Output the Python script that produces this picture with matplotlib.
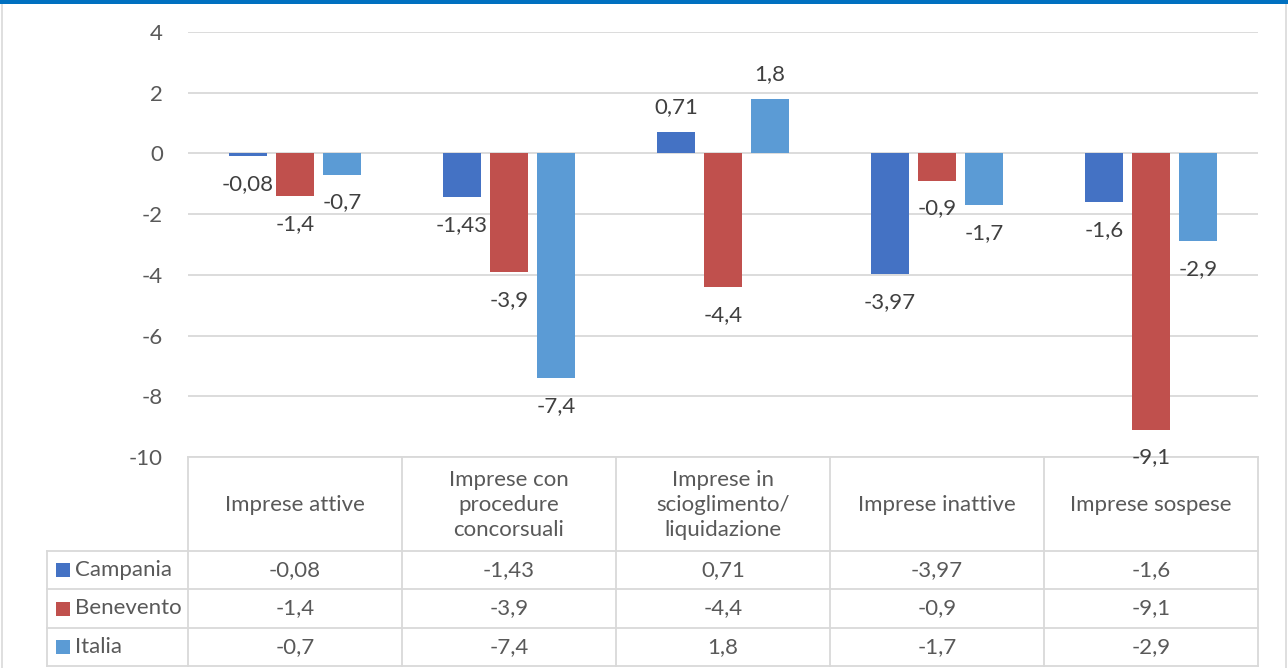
import numpy as np
import matplotlib
matplotlib.use("Agg")
import matplotlib.pyplot as plt
import matplotlib.transforms as mtrans
from matplotlib.patches import Rectangle

plt.rcParams['font.family'] = ['Lato', 'DejaVu Sans']

# data
categories = ["Imprese attive", "Imprese con\nprocedure\nconcorsuali",
              "Imprese in\nscioglimento/\nliquidazione", "Imprese inattive",
              "Imprese sospese"]
series_names = ["Campania", "Benevento", "Italia"]
campania = [-0.08, -1.43, 0.71, -3.97, -1.6]
benevento = [-1.4, -3.9, -4.4, -0.9, -9.1]
italia = [-0.7, -7.4, 1.8, -1.7, -2.9]
colors = ["#4472C4", "#C0504D", "#5B9BD5"]
yticks = [4, 2, 0, -2, -4, -6, -8, -10]

FS = 16

def fmt(v):
    s = ("%.2f" % v).rstrip("0").rstrip(".")
    return s.replace(".", ",")

W, H = 1288, 668
fig = plt.figure(figsize=(W / 100, H / 100), dpi=100)

# overlay in pixel coords (y down) for frame + table
ov = fig.add_axes([0, 0, 1, 1], zorder=0)
ov.set_xlim(0, W)
ov.set_ylim(H, 0)
ov.axis("off")
ov.add_patch(Rectangle((2, 3), W - 4, H - 2, fill=False, ec="#D9D9D9", lw=1.2))
ov.add_patch(Rectangle((0, 0), W, 3.5, fc="#0070C0", ec="none"))

# main chart
ax_l, ax_r, ax_t, ax_b = 188, 1258, 32, 457
ax = fig.add_axes([ax_l / W, (H - ax_b) / H, (ax_r - ax_l) / W, (ax_b - ax_t) / H], zorder=2)
ax.patch.set_alpha(0)
ax.set_xlim(-0.5, len(categories) - 0.5)
ax.set_ylim(-10, 4)
ax.set_yticks(yticks)
ax.set_yticklabels([fmt(t) for t in yticks])
ax.set_xticks([])
ax.tick_params(axis="y", length=0, pad=18, labelsize=FS, labelcolor="#595959")
for sp in ax.spines.values():
    sp.set_visible(False)
ax.yaxis.grid(True, color="#D9D9D9", lw=1.3)
ax.set_axisbelow(True)

x = np.arange(len(categories))
bw = 0.177
step = 0.22
all_series = [campania, benevento, italia]
for k, vals in enumerate(all_series):
    xs = x + (k - 1) * step
    ax.bar(xs, vals, width=bw, color=colors[k], zorder=3)
    for xi, v in zip(xs, vals):
        off = 18 if v > 0 else -20
        ax.annotate(fmt(v), (xi, v), xytext=(0, off), textcoords="offset points",
                    ha="center", va="center", fontsize=FS, color="#404040",
                    annotation_clip=False, zorder=4)

# data table below: x from chart data, y in pixels
tr = mtrans.blended_transform_factory(ax.transData, ov.transData)
line_kw = dict(color="#D9D9D9", lw=1.3, zorder=1)
row_edges = [457, 551, 589, 628, 666]
leg_left = 47
n = len(categories)
# vertical lines for category columns
for i in range(n + 1):
    ov.plot([i - 0.5, i - 0.5], [row_edges[0], row_edges[-1]], transform=tr, **line_kw)
# horizontal lines
ov.plot([-0.5, n - 0.5], [row_edges[0], row_edges[0]], transform=tr, **line_kw)
for y in row_edges[1:]:
    ov.plot([leg_left, ax_l], [y, y], **line_kw)
    ov.plot([-0.5, n - 0.5], [y, y], transform=tr, **line_kw)
ov.plot([leg_left, leg_left], [row_edges[1], row_edges[-1]], **line_kw)

# header
hy = (row_edges[0] + row_edges[1]) / 2
for i, c in enumerate(categories):
    ov.text(i, hy + 1, c, transform=tr, ha="center", va="center", fontsize=FS,
            color="#595959", linespacing=1.33)
# rows
for r, (name, vals) in enumerate(zip(series_names, all_series)):
    cy = (row_edges[r + 1] + row_edges[r + 2]) / 2
    ov.add_patch(Rectangle((56, cy - 7), 14, 14, fc=colors[r], ec="none"))
    ov.text(75, cy, name, ha="left", va="center", fontsize=FS, color="#595959")
    for i, v in enumerate(vals):
        ov.text(i, cy, fmt(v), transform=tr, ha="center", va="center",
                fontsize=FS, color="#595959")

fig.savefig("out.png", dpi=100)
